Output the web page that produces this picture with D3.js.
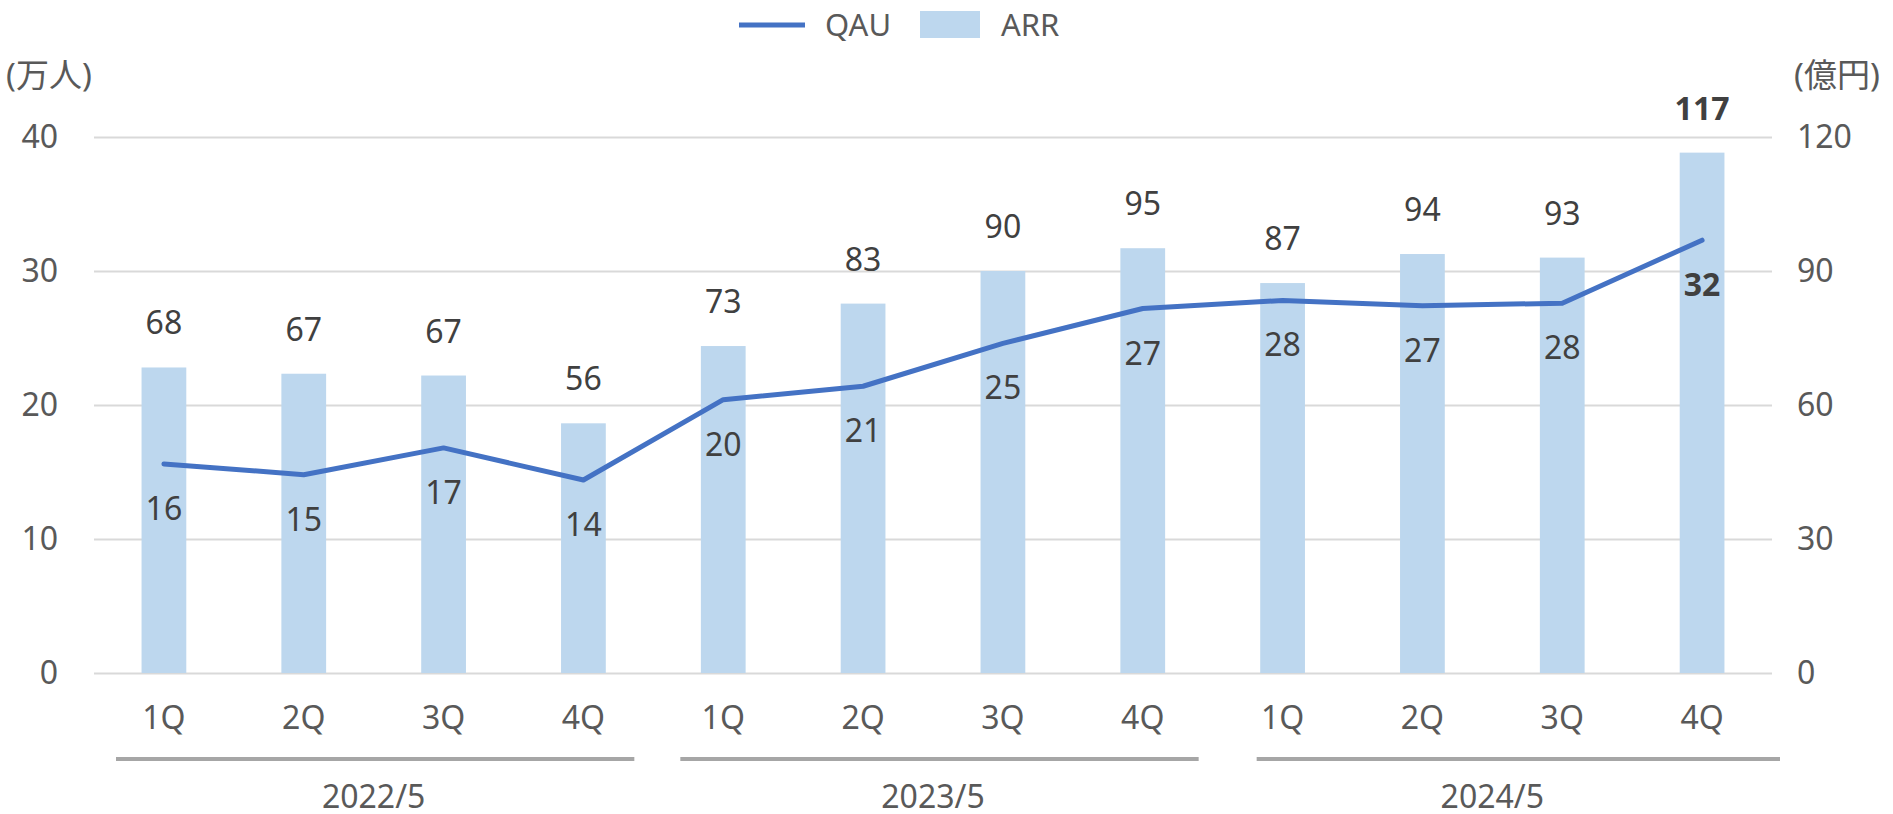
<!DOCTYPE html>
<html>
<head>
<meta charset="utf-8">
<script src="https://cdn.jsdelivr.net/npm/d3@7"></script>
<style>
  html, body { margin: 0; padding: 0; background: #ffffff; overflow: hidden; }
  svg { display: block; }
  svg text { font-family: "Noto Sans", "Noto Sans CJK JP", sans-serif; }
</style>
</head>
<body>
<div id="chart"></div>
<script>
// Chart data
const quarters = ["1Q", "2Q", "3Q", "4Q", "1Q", "2Q", "3Q", "4Q", "1Q", "2Q", "3Q", "4Q"];
const years = ["2022/5", "2023/5", "2024/5"];
const arrValues = [68.4, 67.0, 66.6, 55.9, 73.2, 82.7, 90.0, 95.1, 87.3, 93.8, 93.0, 116.5];
const qauValues = [15.6, 14.8, 16.8, 14.4, 20.4, 21.4, 24.6, 27.2, 27.8, 27.4, 27.6, 32.3];
const leftTicks = [0, 10, 20, 30, 40];
const rightTicks = [0, 30, 60, 90, 120];

// We define the size of the visualization
const width = 1893;
const height = 814;
const margin = { top: 137, right: 121, bottom: 141, left: 94 };
const innerWidth = width - margin.left - margin.right;
const innerHeight = height - margin.top - margin.bottom;

const barColor = "#BDD7EE";
const lineColor = "#4472C4";
const gridColor = "#D9D9D9";
const tickColor = "#595959";
const labelColor = "#404040";

const svg = d3.select("#chart").append("svg")
    .attr("width", width)
    .attr("height", height);

const g = svg.append("g")
    .attr("transform", `translate(${margin.left},${margin.top})`);

// Scales
const xScale = d3.scaleBand()
    .domain(d3.range(quarters.length))
    .range([0, innerWidth])
    .paddingInner(0.68)
    .paddingOuter(0.34);

const yLeft = d3.scaleLinear().domain([0, 40]).range([innerHeight, 0]);
const yRight = d3.scaleLinear().domain([0, 120]).range([innerHeight, 0]);

const center = i => xScale(i) + xScale.bandwidth() / 2;

// Grid lines and left axis
const leftAxis = g.append("g")
    .call(d3.axisLeft(yLeft).tickValues(leftTicks).tickSize(-innerWidth).tickPadding(36));
leftAxis.select(".domain").remove();
leftAxis.selectAll(".tick line").attr("stroke", gridColor).attr("stroke-width", 2);
leftAxis.selectAll(".tick text")
    .attr("fill", tickColor)
    .style("font-size", "32px");

// Right axis
const rightAxis = g.append("g")
    .attr("transform", `translate(${innerWidth},0)`)
    .call(d3.axisRight(yRight).tickValues(rightTicks).tickSize(0).tickPadding(25));
rightAxis.select(".domain").remove();
rightAxis.selectAll(".tick text")
    .attr("fill", tickColor)
    .style("font-size", "32px");

// Bars for ARR
g.selectAll(".bar")
    .data(arrValues)
    .enter()
    .append("rect")
    .attr("class", "bar")
    .attr("x", (d, i) => xScale(i))
    .attr("y", d => yRight(d))
    .attr("width", xScale.bandwidth())
    .attr("height", d => innerHeight - yRight(d))
    .attr("fill", barColor);

// Line for QAU
const line = d3.line()
    .x((d, i) => center(i))
    .y(d => yLeft(d));

g.append("path")
    .datum(qauValues)
    .attr("fill", "none")
    .attr("stroke", lineColor)
    .attr("stroke-width", 5)
    .attr("stroke-linejoin", "round")
    .attr("stroke-linecap", "round")
    .attr("d", line);

const last = quarters.length - 1;

// ARR labels above bars
g.selectAll(".arr-label")
    .data(arrValues)
    .enter()
    .append("text")
    .attr("x", (d, i) => center(i))
    .attr("y", d => yRight(d) - 33)
    .attr("text-anchor", "middle")
    .attr("fill", labelColor)
    .style("font-size", "32px")
    .style("font-weight", (d, i) => i === last ? "bold" : "normal")
    .text(d => Math.round(d));

// QAU labels below line
g.selectAll(".qau-label")
    .data(qauValues)
    .enter()
    .append("text")
    .attr("x", (d, i) => center(i))
    .attr("y", d => yLeft(d) + 56)
    .attr("text-anchor", "middle")
    .attr("fill", labelColor)
    .style("font-size", "32px")
    .style("font-weight", (d, i) => i === last ? "bold" : "normal")
    .text(d => Math.round(d));

// Quarter labels on x axis
const xAxis = g.append("g")
    .attr("transform", `translate(0,${innerHeight})`)
    .call(d3.axisBottom(xScale).tickSize(0).tickPadding(33).tickFormat(i => quarters[i]));
xAxis.select(".domain").remove();
xAxis.selectAll(".tick text")
    .attr("fill", tickColor)
    .style("font-size", "32px");

// Year groups under the quarters
const step = xScale.step();
const groupInsets = [[22, -19], [27, -14], [44, 8]];
years.forEach((year, k) => {
    const x0 = k * 4 * step;
    const x1 = (k + 1) * 4 * step;
    g.append("line")
        .attr("x1", x0 + groupInsets[k][0])
        .attr("x2", x1 + groupInsets[k][1])
        .attr("y1", innerHeight + 86)
        .attr("y2", innerHeight + 86)
        .attr("stroke", "#A6A6A6")
        .attr("stroke-width", 4);
    g.append("text")
        .attr("x", (x0 + x1) / 2)
        .attr("y", innerHeight + 135)
        .attr("text-anchor", "middle")
        .attr("fill", tickColor)
        .style("font-size", "32px")
        .text(year);
});

// Unit labels
svg.append("text")
    .attr("x", 6)
    .attr("y", 87)
    .attr("fill", tickColor)
    .style("font-size", "33px")
    .text("(万人)");

svg.append("text")
    .attr("x", 1794)
    .attr("y", 87)
    .attr("fill", tickColor)
    .style("font-size", "33px")
    .text("(億円)");

// Legend
const legend = svg.append("g");
legend.append("line")
    .attr("x1", 739).attr("x2", 805)
    .attr("y1", 25).attr("y2", 25)
    .attr("stroke", lineColor)
    .attr("stroke-width", 5);
legend.append("text")
    .attr("x", 825).attr("y", 36)
    .attr("fill", tickColor)
    .style("font-size", "31px")
    .text("QAU");
legend.append("rect")
    .attr("x", 920).attr("y", 11)
    .attr("width", 60).attr("height", 27)
    .attr("fill", barColor);
legend.append("text")
    .attr("x", 1001).attr("y", 36)
    .attr("fill", tickColor)
    .style("font-size", "31px")
    .text("ARR");
</script>
</body>
</html>
